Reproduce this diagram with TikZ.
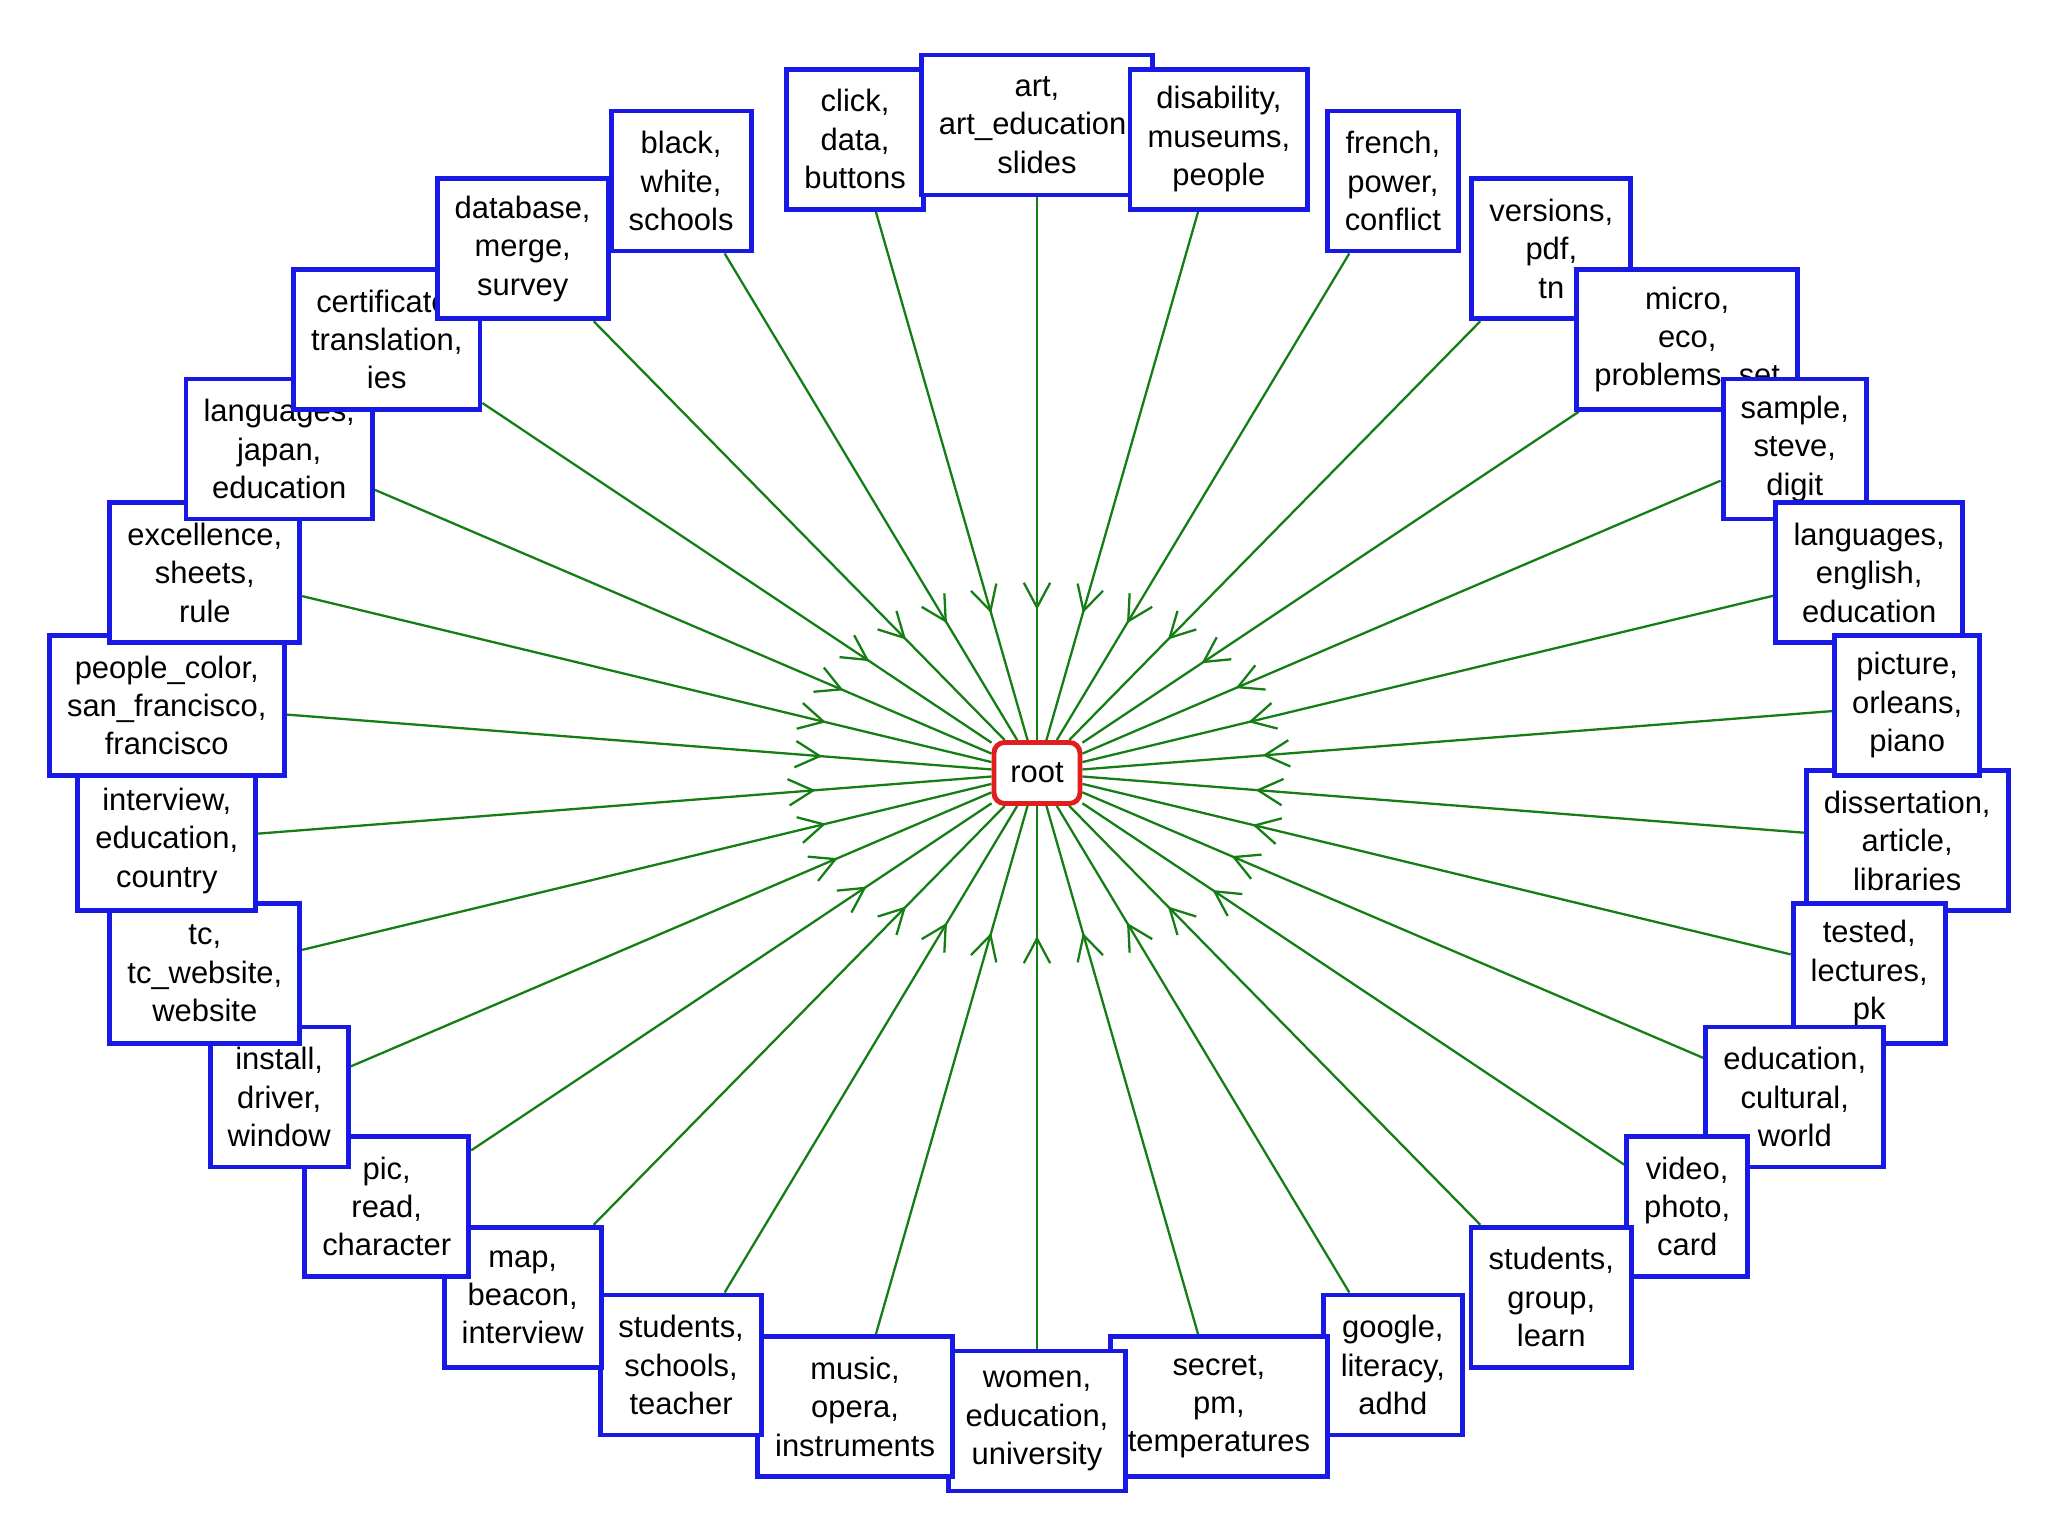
\documentclass[tikz,border=0pt]{standalone}
\usepackage{fontspec}
\setmainfont{Liberation Sans}
\usetikzlibrary{arrows.meta,decorations.markings,backgrounds}
\definecolor{boxblue}{RGB}{25,25,230}
\definecolor{linkgreen}{RGB}{20,125,20}
\definecolor{rootred}{RGB}{225,30,30}

\begin{document}
\begin{tikzpicture}[font=\fontsize{8.8}{10.9}\selectfont,
  topic/.style={draw=boxblue,line width=1.4pt,fill=white,align=center,inner xsep=5pt,inner ysep=0pt,minimum height=1.4cm},
  hub/.style={draw=rootred,line width=1.4pt,fill=white,rounded corners=3pt,minimum width=0.86cm,minimum height=0.61cm,inner sep=0pt},
  ln/.style={linkgreen,line width=0.65pt,postaction={decorate},
    decoration={markings,mark=at position 0.76 with {\arrow{Straight Barb[length=7pt,width=7.5pt]}}}}]
\useasboundingbox (-10.37,-7.63) rectangle (10.11,7.73);
\node[hub] (root) at (0,0) {root};
% topic boxes, drawn clockwise from the right so that later ones lie on top
\node[topic] (dissert) at (354:8.75cm and 6.48cm) {dissertation,\\article,\\libraries};
\node[topic] (tested) at (342:8.75cm and 6.48cm) {tested,\\lectures,\\pk};
\node[topic] (cultural) at (330:8.75cm and 6.48cm) {education,\\cultural,\\world};
\node[topic] (video) at (318:8.75cm and 6.48cm) {video,\\photo,\\card};
\node[topic] (group) at (306:8.75cm and 6.48cm) {students,\\group,\\learn};
\node[topic] (google) at (294:8.75cm and 6.48cm) {google,\\literacy,\\adhd};
\node[topic] (secret) at (282:8.75cm and 6.48cm) {secret,\\pm,\\temperatures};
\node[topic] (women) at (270:8.75cm and 6.48cm) {women,\\education,\\university};
\node[topic] (music) at (258:8.75cm and 6.48cm) {music,\\opera,\\instruments};
\node[topic] (teacher) at (246:8.75cm and 6.48cm) {students,\\schools,\\teacher};
\node[topic] (map) at (234:8.75cm and 6.48cm) {map,\\beacon,\\interview};
\node[topic] (pic) at (222:8.75cm and 6.48cm) {pic,\\read,\\character};
\node[topic] (install) at (210:8.75cm and 6.48cm) {install,\\driver,\\window};
\node[topic] (tc) at (198:8.75cm and 6.48cm) {tc,\\tc\_website,\\website};
\node[topic] (country) at (186:8.75cm and 6.48cm) {interview,\\education,\\country};
\node[topic] (sanfran) at (174:8.75cm and 6.48cm) {people\_color,\\san\_francisco,\\francisco};
\node[topic] (sheets) at (162:8.75cm and 6.48cm) {excellence,\\sheets,\\rule};
\node[topic] (japan) at (150:8.75cm and 6.48cm) {languages,\\japan,\\education};
\node[topic] (cert) at (138:8.75cm and 6.48cm) {certificate,\\translation,\\ies};
\node[topic] (survey) at (126:8.75cm and 6.48cm) {database,\\merge,\\survey};
\node[topic] (black) at (114:8.75cm and 6.48cm) {black,\\white,\\schools};
\node[topic] (click) at (102:8.75cm and 6.48cm) {click,\\data,\\buttons};
\node[topic] (art) at (90:8.75cm and 6.48cm) {art,\\art\_education,\\slides};
\node[topic] (museum) at (78:8.75cm and 6.48cm) {disability,\\museums,\\people};
\node[topic] (french) at (66:8.75cm and 6.48cm) {french,\\power,\\conflict};
\node[topic] (pdf) at (54:8.75cm and 6.48cm) {versions,\\pdf,\\tn};
\node[topic] (micro) at (42:8.75cm and 6.48cm) {micro,\\eco,\\problems\_set};
\node[topic] (sample) at (30:8.75cm and 6.48cm) {sample,\\steve,\\digit};
\node[topic] (english) at (18:8.75cm and 6.48cm) {languages,\\english,\\education};
\node[topic] (piano) at (6:8.75cm and 6.48cm) {picture,\\orleans,\\piano};
\begin{scope}[on background layer]
\draw[ln] (dissert) -- (root);
\draw[ln] (tested) -- (root);
\draw[ln] (cultural) -- (root);
\draw[ln] (video) -- (root);
\draw[ln] (group) -- (root);
\draw[ln] (google) -- (root);
\draw[ln] (secret) -- (root);
\draw[ln] (women) -- (root);
\draw[ln] (music) -- (root);
\draw[ln] (teacher) -- (root);
\draw[ln] (map) -- (root);
\draw[ln] (pic) -- (root);
\draw[ln] (install) -- (root);
\draw[ln] (tc) -- (root);
\draw[ln] (country) -- (root);
\draw[ln] (sanfran) -- (root);
\draw[ln] (sheets) -- (root);
\draw[ln] (japan) -- (root);
\draw[ln] (cert) -- (root);
\draw[ln] (survey) -- (root);
\draw[ln] (black) -- (root);
\draw[ln] (click) -- (root);
\draw[ln] (art) -- (root);
\draw[ln] (museum) -- (root);
\draw[ln] (french) -- (root);
\draw[ln] (pdf) -- (root);
\draw[ln] (micro) -- (root);
\draw[ln] (sample) -- (root);
\draw[ln] (english) -- (root);
\draw[ln] (piano) -- (root);
\end{scope}
\end{tikzpicture}
\end{document}
